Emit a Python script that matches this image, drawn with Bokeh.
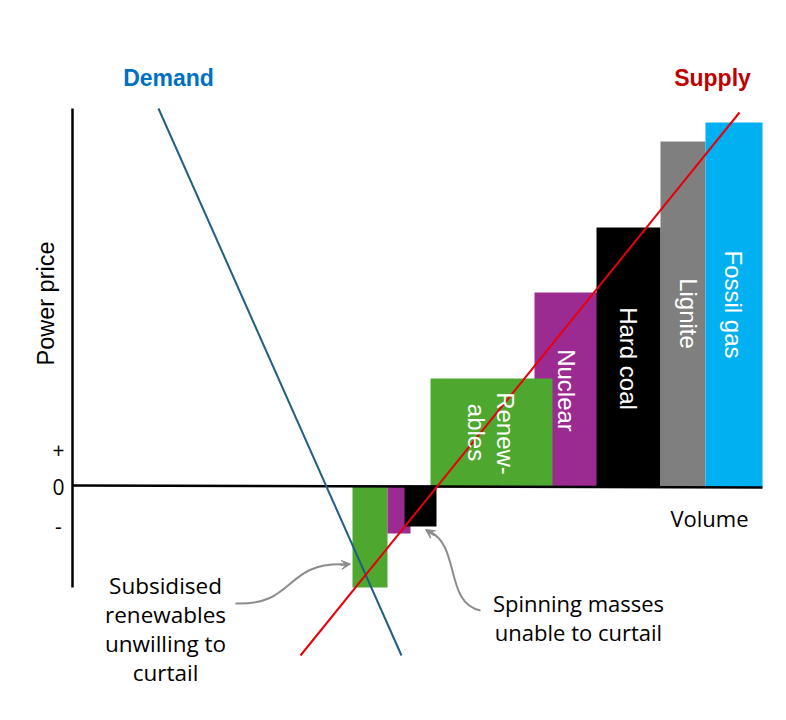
import math
from bokeh.plotting import figure
from bokeh.models import Range1d, Arrow, VeeHead, ColumnDataSource
from bokeh.core.properties import value
from bokeh.embed import file_html
from bokeh.resources import INLINE

# ---- data (volume units, price units; origin = (0, 0)) ----
bar_names  = ["Nuclear", "Renewables", "Hard coal", "Lignite", "Fossil gas",
              "Subsidised renewables", "Must-run nuclear", "Spinning masses"]
bar_left   = [462, 358, 524, 588, 633, 280, 315, 332]
bar_right  = [526, 480, 588, 633, 690, 315, 338, 364]
bar_top    = [193, 107, 258, 344, 363, 0, 0, 0]
bar_bottom = [-2, -2, -2, -2, -2, -102, -48, -41]
bar_colors = ["#9b2a91", "#4ea72e", "#000000", "#7f7f7f", "#00b0f0",
              "#4ea72e", "#9b2a91", "#000000"]

demand_vol   = [86, 329]
demand_price = [377, -170]
supply_vol   = [228, 667]
supply_price = [-170, 373]

label_lines = ["Renew-", "ables", "Nuclear", "Hard coal", "Lignite", "Fossil gas"]
label_vol   = [433, 404, 494, 556, 616, 661]
label_price = [52, 53, 95, 127, 172, 181]

tick_labels = ["+", "0", "-"]
tick_price  = [36, -1, -40]

note1_lines = ["Subsidised", "renewables", "unwilling to", "curtail"]
note2_lines = ["Spinning masses", "unable to curtail"]

p = figure(width=770, height=704, output_backend="svg", toolbar_location=None,
           x_range=Range1d(-72, 698), y_range=Range1d(-219, 485),
           min_border=0, outline_line_color=None)
p.axis.visible = False
p.grid.visible = False

src = ColumnDataSource(dict(left=bar_left, right=bar_right, top=bar_top,
                            bottom=bar_bottom, color=bar_colors, name=bar_names))
p.quad(left="left", right="right", top="top", bottom="bottom", color="color",
       line_color=None, source=src)

# axes lines
p.line([0, 0], [377, -102], line_color="black", line_width=2.5)
p.line([0, 690], [0, -2], line_color="black", line_width=2.5)

# demand / supply
p.line(demand_vol, demand_price, line_color="#1f5f85", line_width=2)
p.line(supply_vol, supply_price, line_color="#e8000b", line_width=2)

# bar labels (white, rotated clockwise)
p.text(x=label_vol, y=label_price, text=label_lines, angle=-math.pi / 2,
       text_color="white", text_font=value("Liberation Sans"),
       text_font_size="24px", text_align="center", text_baseline="middle")

# titles
p.text(x=[96], y=[408], text=["Demand"], text_color="#0070c0",
       text_font=value("Liberation Sans"), text_font_style="bold",
       text_font_size="23px", text_align="center", text_baseline="middle")
p.text(x=[640], y=[408], text=["Supply"], text_color="#c00000",
       text_font=value("Liberation Sans"), text_font_style="bold",
       text_font_size="23px", text_align="center", text_baseline="middle")

# axis titles
p.text(x=[-27], y=[182], text=["Power price"], angle=math.pi / 2,
       text_color="black", text_font=value("Liberation Sans"),
       text_font_size="23.5px", text_align="center", text_baseline="middle")
p.text(x=[637], y=[-32], text=["Volume"], text_color="black",
       text_font=value("Open Sans"), text_font_size="22px",
       text_align="center", text_baseline="middle")

p.text(x=[-14] * 3, y=tick_price, text=tick_labels, text_color="black",
       text_font=value("Open Sans"), text_font_size="21px",
       text_align="center", text_baseline="middle")

# notes
p.text(x=[93] * 4, y=[-100, -129, -158, -187], text=note1_lines,
       text_color="black", text_font=value("Open Sans"), text_font_size="22.5px",
       text_align="center", text_baseline="middle")
p.text(x=[506] * 2, y=[-117, -146], text=note2_lines,
       text_color="black", text_font=value("Open Sans"), text_font_size="22px",
       text_align="center", text_baseline="middle")

# curved arrows
p.bezier(x0=[163], y0=[-118], x1=[274], y1=[-79], cx0=[225], cy0=[-120],
         cx1=[210], cy1=[-76], line_color="#8c8c8c", line_width=2)
p.add_layout(Arrow(end=VeeHead(size=9, line_color="#8c8c8c", fill_color="#8c8c8c"),
                   x_start=268, y_start=-79.5, x_end=278, y_end=-78.5,
                   line_color="#8c8c8c", line_width=2))
p.bezier(x0=[408], y0=[-125], x1=[357], y1=[-46], cx0=[372], cy0=[-118],
         cx1=[388], cy1=[-60], line_color="#8c8c8c", line_width=2)
p.add_layout(Arrow(end=VeeHead(size=9, line_color="#8c8c8c", fill_color="#8c8c8c"),
                   x_start=362, y_start=-50, x_end=353, y_end=-44,
                   line_color="#8c8c8c", line_width=2))

open("out.html", "w").write(file_html(p, INLINE))
